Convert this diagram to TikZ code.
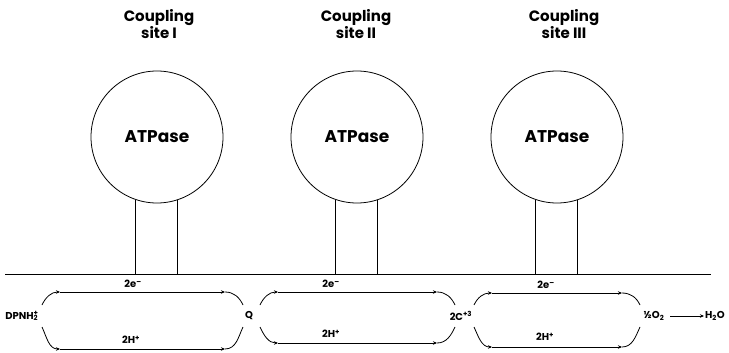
\documentclass[tikz,border=0pt]{standalone}
\usepackage{fontspec}
\setmainfont{Poppins}
\usetikzlibrary{arrows.meta}

% One electron/proton carrier loop between two redox partners.
% #1 name, #2 left x, #3 right x, #4 top y, #5 bottom y, #6 middle y
\newcommand\carrierloop[6]{%
  \coordinate (#1-ua) at (#2,#6-11);
  \coordinate (#1-ub) at (#2+18,#4);
  \coordinate (#1-uc) at (#3-18,#4);
  \coordinate (#1-ud) at (#3,#6-11);
  \coordinate (#1-la) at (#2,#6+11);
  \coordinate (#1-lb) at (#2+18,#5);
  \coordinate (#1-lc) at (#3-18,#5);
  \coordinate (#1-ld) at (#3,#6+11);
  \draw[carrier,tip] (#1-ua) to[out=65,in=180] (#1-ub);
  \draw[carrier,tip] (#1-ub) -- (#1-uc);
  \draw[carrier] (#1-uc) to[out=0,in=115] (#1-ud);
  \draw[carrier,tip] (#1-la) to[out=-65,in=180] (#1-lb);
  \draw[carrier,tip] (#1-lb) -- (#1-lc);
  \draw[carrier] (#1-lc) to[out=0,in=-115] (#1-ld);
}

\begin{document}
\begin{tikzpicture}[x=1pt,y=-1pt,
  membrane/.style={line width=1pt},
  headpart/.style={draw, circle, minimum size=132pt, inner sep=0pt, line width=0.8pt,
    font=\bfseries\fontsize{17}{17}\selectfont},
  stalk/.style={line width=0.8pt},
  sitetitle/.style={align=center, inner sep=0pt, font=\bfseries\fontsize{15}{16}\selectfont},
  chem/.style={inner sep=1pt, font=\bfseries\fontsize{10}{10}\selectfont},
  carrier/.style={line width=0.8pt},
  tip/.style={-{Stealth[length=4pt,width=3.5pt]}}
]
\useasboundingbox (0,0) rectangle (729,353);

% membrane
\coordinate (ml) at (5,274);
\coordinate (mr) at (711,274);
\draw[membrane] (ml) -- (mr);

% coupling sites: titles, ATPase heads and stalks
\node[sitetitle] (t1) at (159,24) {Coupling\\site I};
\node[sitetitle] (t2) at (356,24) {Coupling\\site II};
\node[sitetitle] (t3) at (564,24) {Coupling\\site III};

\node[headpart] (f1) at (157,137) {ATPase};
\node[headpart] (f2) at (357,137) {ATPase};
\node[headpart] (f3) at (557,137) {ATPase};

\foreach \f in {f1,f2,f3}{
  \draw[stalk] (\f.251.5) -- (\f.251.5 |- ml);
  \draw[stalk] (\f.288.5) -- (\f.288.5 |- ml);
}

% redox partners
\node[chem] (dpnh) at (22,316) {DPNH\textsubscript{2}\kern-0.45em\textsuperscript{+}};
\node[chem] (q) at (249,316) {Q};
\node[chem] (cyt) at (461,316) {2C\textsuperscript{+3}};
\node[chem] (oxy) at (654,316) {½O\textsubscript{2}};
\node[chem] (wat) at (715,316) {H\textsubscript{2}O};
\draw[carrier,tip] (oxy.east) ++(5,0) coordinate (oa) -- (wat.west);

% carrier loops
\carrierloop{c1}{42}{243}{292}{349}{316}
\carrierloop{c2}{260}{455}{292}{343}{316}
\carrierloop{c3}{474}{640}{293}{347}{316}

\node[chem] (e1) at (133,284) {2e\textsuperscript{--}};
\node[chem] (e2) at (331,284) {2e\textsuperscript{--}};
\node[chem] (e3) at (546,285) {2e\textsuperscript{--}};
\node[chem] (h1) at (131,340) {2H\textsuperscript{+}};
\node[chem] (h2) at (331,334) {2H\textsuperscript{+}};
\node[chem] (h3) at (545,337) {2H\textsuperscript{+}};
\end{tikzpicture}
\end{document}
